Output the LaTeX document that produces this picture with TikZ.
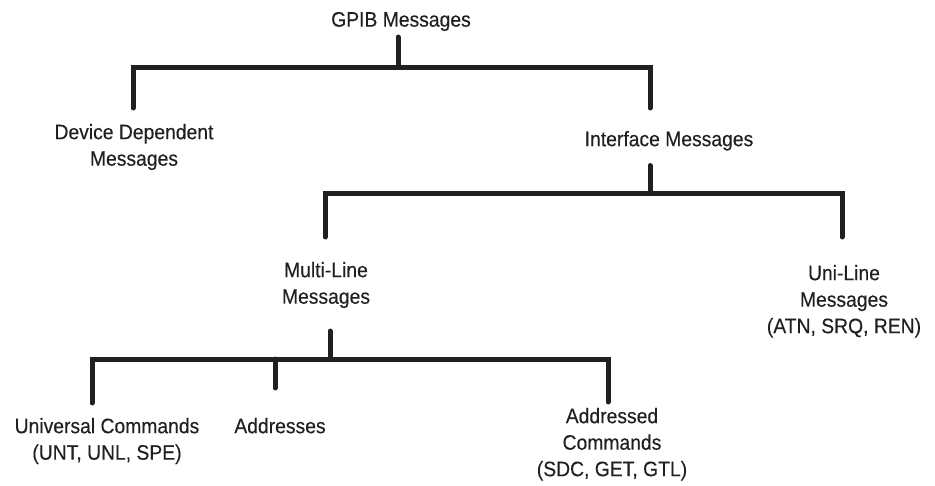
\documentclass[tikz,border=0pt]{standalone}
\usepackage{fontspec}
\setmainfont{Liberation Sans}[FakeStretch=0.92,FakeBold=0.3]
\definecolor{ink}{HTML}{231F20}
\begin{document}
\begin{tikzpicture}[x=1pt,y=1pt,
  lbl/.style={anchor=north,inner sep=0pt,outer sep=0pt,align=center,text=ink,
    font=\fontsize{21pt}{26.5pt}\selectfont},
  tree/.style={draw=ink,line width=5pt,line cap=round,line join=miter}]
\useasboundingbox (0,0) rectangle (935,485);
\node[lbl] (gpib) at (401,473) {GPIB Messages};
\node[lbl] (dd) at (134,361) {Device Dependent\\Messages};
\node[lbl] (if) at (669,354) {Interface Messages};
\node[lbl] (ml) at (326,223) {Multi-Line\\Messages};
\node[lbl] (ul) at (844,220) {Uni-Line\\Messages\\(ATN, SRQ, REN)};
\node[lbl] (uc) at (107,67) {Universal Commands\\(UNT, UNL, SPE)};
\node[lbl] (addr) at (280,67) {Addresses};
\node[lbl] (ac) at (612,77) {Addressed\\Commands\\(SDC, GET, GTL)};
% level 1
\draw[tree] ([xshift=-3pt,yshift=-6pt]gpib.south) -- ++(0,-30) coordinate (b1);
\coordinate (ddT) at ([xshift=-1pt,yshift=16pt]dd.north);
\coordinate (ifT) at ([xshift=-19pt,yshift=23pt]if.north);
\draw[tree] (ddT) -- (ddT |- b1) -- (ifT |- b1) -- (ifT);
% level 2
\draw[tree] ([xshift=-19pt,yshift=-15pt]if.south) -- ++(0,-28) coordinate (b2);
\coordinate (mlT) at ([xshift=-1pt,yshift=25pt]ml.north);
\coordinate (ulT) at ([xshift=-2pt,yshift=28pt]ul.north);
\draw[tree] (mlT) -- (mlT |- b2) -- (ulT |- b2) -- (ulT);
% level 3
\draw[tree] ([xshift=4pt,yshift=-23pt]ml.south) -- ++(0,-28) coordinate (b3);
\coordinate (ucT) at ([xshift=-15pt,yshift=15pt]uc.north);
\coordinate (adT) at ([xshift=-5pt,yshift=30pt]addr.north);
\coordinate (acT) at ([xshift=-4pt,yshift=6pt]ac.north);
\draw[tree] (ucT) -- (ucT |- b3) -- (acT |- b3) -- (acT);
\draw[tree] (adT |- b3) -- (adT);
\end{tikzpicture}
\end{document}
